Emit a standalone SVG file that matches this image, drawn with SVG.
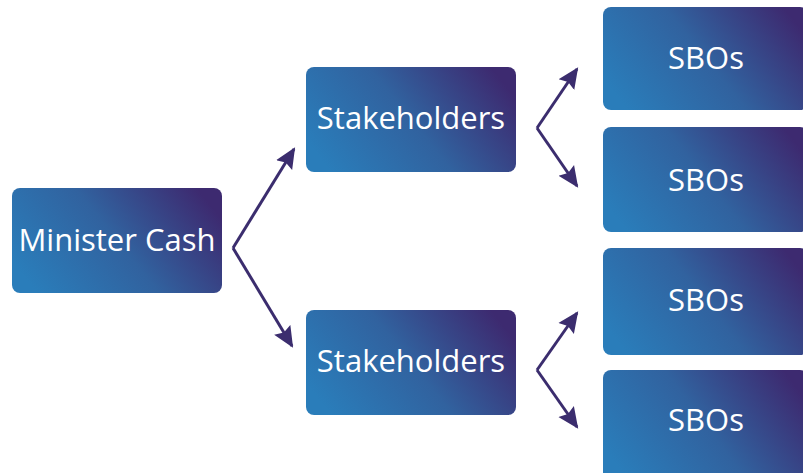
<svg xmlns="http://www.w3.org/2000/svg" width="803" height="473" viewBox="0 0 803 473">
  <defs>
    <linearGradient id="boxFill" x1="0" y1="0.7" x2="1" y2="0.3">
      <stop offset="0" stop-color="#2A7DBA"/>
      <stop offset="0.5" stop-color="#31629F"/>
      <stop offset="1" stop-color="#3D2A70"/>
    </linearGradient>
    <marker id="arrow" viewBox="0 0 10 10" refX="9" refY="5" markerWidth="7" markerHeight="7" markerUnits="strokeWidth" orient="auto">
      <path d="M0,0.5 L10,5 L0,9.5 L1.5,5 Z" fill="#3B2D6E"/>
    </marker>
  </defs>
  <style>
    .box { fill: url(#boxFill); }
    .label { font-family: "Open Sans", "Liberation Sans", sans-serif; font-size: 31px; fill: #FFFFFF; text-anchor: middle; dominant-baseline: central; }
    .conn { fill: none; stroke: #3B2D6E; stroke-width: 3; marker-end: url(#arrow); }
  </style>
  <rect width="803" height="473" fill="#FFFFFF"/>

  <g id="connectors">
    <path class="conn" d="M233,248 L294,149"/>
    <path class="conn" d="M233,248 L292,346"/>
    <path class="conn" d="M537,128 L577,69"/>
    <path class="conn" d="M537,128 L577,186"/>
    <path class="conn" d="M537,370 L577,313"/>
    <path class="conn" d="M537,370 L577,427"/>
  </g>

  <g id="minister-cash">
    <rect class="box" x="12" y="188" width="210" height="105" rx="8"/>
    <text class="label" x="117" y="239">Minister Cash</text>
  </g>
  <g id="stakeholders-1">
    <rect class="box" x="306" y="67" width="210" height="105" rx="8"/>
    <text class="label" x="411" y="117">Stakeholders</text>
  </g>
  <g id="stakeholders-2">
    <rect class="box" x="306" y="310" width="210" height="105" rx="8"/>
    <text class="label" x="411" y="360">Stakeholders</text>
  </g>
  <g id="sbos-1">
    <rect class="box" x="603" y="7" width="205" height="103" rx="8"/>
    <text class="label" x="706" y="57">SBOs</text>
  </g>
  <g id="sbos-2">
    <rect class="box" x="603" y="127" width="205" height="105" rx="8"/>
    <text class="label" x="706" y="179">SBOs</text>
  </g>
  <g id="sbos-3">
    <rect class="box" x="603" y="248" width="205" height="107" rx="8"/>
    <text class="label" x="706" y="299">SBOs</text>
  </g>
  <g id="sbos-4">
    <rect class="box" x="603" y="370" width="205" height="110" rx="8"/>
    <text class="label" x="706" y="419">SBOs</text>
  </g>
</svg>
